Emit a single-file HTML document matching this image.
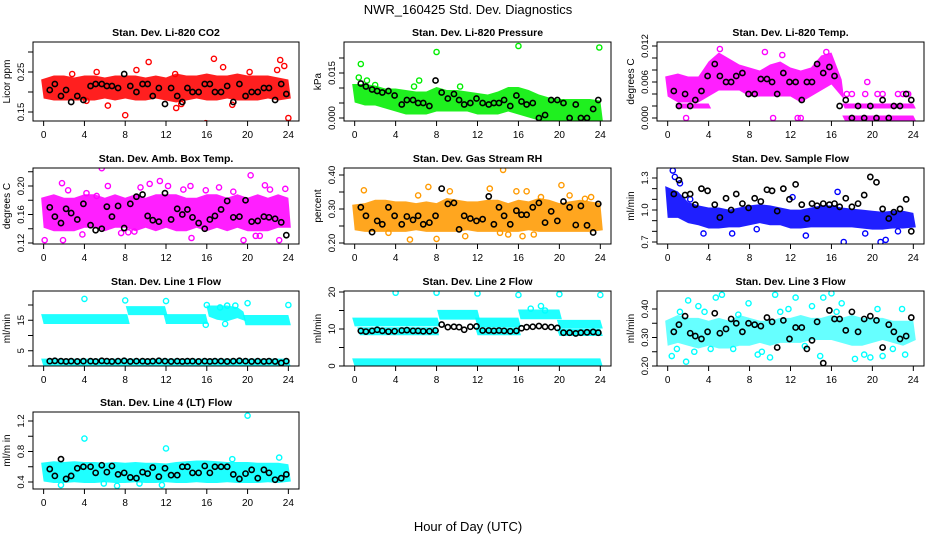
<!DOCTYPE html>
<html><head><meta charset="utf-8"><title>NWR_160425 Std. Dev. Diagnostics</title>
<style>
html,body{margin:0;padding:0;background:#fff;}
svg{display:block;font-family:"Liberation Sans",sans-serif;}
</style></head>
<body>
<svg id="chart" width="936" height="540" viewBox="0 0 936 540" xmlns="http://www.w3.org/2000/svg">
<text x="468" y="14" text-anchor="middle" font-size="13">NWR_160425  Std. Dev. Diagnostics</text>
<text x="468" y="531" text-anchor="middle" font-size="13">Hour of Day (UTC)</text>
</svg>
<script>
const HOURS=[0,1,2,3,4,5,6,7,8,9,10,11,12,13,14,15,16,17,18,19,20,21,22,23,24];
const X_TICKS=[0,4,8,12,16,20,24];
const BLACK_T=[0.6,1.1,1.7,2.2,2.7,3.3,3.9,4.6,5.1,5.7,6.2,6.7,7.3,7.9,8.5,9.1,9.7,10.2,10.7,11.3,11.9,12.5,13.1,13.6,14.1,14.6,15.2,15.8,16.3,16.8,17.4,18.0,18.6,19.2,19.8,20.4,21.0,21.6,22.1,22.7,23.3,23.8];

// Panel 1: Li-820 CO2
const P1_LO=[0.19,0.185,0.185,0.185,0.185,0.185,0.19,0.185,0.19,0.185,0.185,0.19,0.185,0.18,0.185,0.19,0.185,0.185,0.19,0.185,0.185,0.185,0.19,0.185,0.19];
const P1_HI=[0.225,0.235,0.235,0.23,0.235,0.235,0.23,0.235,0.235,0.235,0.23,0.235,0.23,0.24,0.235,0.235,0.24,0.235,0.235,0.24,0.235,0.235,0.235,0.23,0.225];
const P1_OUT_T=[8,6.3,15.9,16.7,13,23.2,23.6,24,17.6,10.3,22.9,12.9,18.5,4.2,2.8,5.2,9.1,20.2,13.5];
const P1_OUT_V=[0.142,0.166,0.122,0.283,0.16,0.28,0.265,0.135,0.262,0.275,0.255,0.245,0.168,0.178,0.245,0.25,0.255,0.25,0.17];
const P1_BLK=[0.205,0.22,0.19,0.205,0.175,0.19,0.18,0.215,0.22,0.22,0.215,0.215,0.21,0.245,0.215,0.2,0.22,0.22,0.19,0.21,0.17,0.21,0.19,0.175,0.21,0.2,0.2,0.22,0.22,0.2,0.2,0.215,0.175,0.22,0.19,0.2,0.2,0.21,0.21,0.18,0.22,0.195];

// Panel 2: Li-820 Pressure
const P2_LO=[0.006,0.005,0.005,0.004,0.003,0.002,0.002,0.002,0.003,0.003,0.003,0.003,0.002,0.002,0.002,0.003,0.002,0.001,0.0,0.0,0.0,0.0,0.0,0.0,0.0];
const P2_HI=[0.0105,0.0105,0.01,0.009,0.009,0.0085,0.008,0.008,0.0095,0.0085,0.0085,0.008,0.0075,0.007,0.008,0.0095,0.0095,0.0085,0.007,0.006,0.0055,0.0055,0.0055,0.0055,0.005];
const P2_OUT_T=[0.4,0.6,8,16,23.9,6.3,10.3,5.8,1.2,2.0];
const P2_OUT_V=[0.0135,0.018,0.022,0.024,0.0235,0.0125,0.0105,0.0105,0.0125,0.011];
const P2_BLK=[0.0115,0.0105,0.0095,0.009,0.0085,0.009,0.0075,0.0045,0.006,0.006,0.005,0.005,0.004,0.0125,0.0085,0.0065,0.008,0.006,0.0045,0.005,0.0065,0.005,0.0045,0.005,0.005,0.006,0.004,0.0075,0.0055,0.0045,0.005,0.0,0.001,0.006,0.006,0.005,0.0,0.0045,0.0,0.0,0.003,0.006];

// Panel 3: Li-820 Temp
const P3_T=[0,1,2,3,4,5,6,7,8,9,10,11,12,13,14,15,16,17];
const P3_LO=[0.004,0.003,0.003,0.003,0.004,0.005,0.005,0.005,0.004,0.004,0.004,0.004,0.004,0.003,0.004,0.005,0.006,0.0035];
const P3_HI=[0.0065,0.007,0.0065,0.0065,0.009,0.0105,0.0095,0.0085,0.008,0.0075,0.0085,0.009,0.008,0.0075,0.008,0.01,0.0105,0.006];
const P3_Q1_T=[1,4];
const P3_Q1_V=[0.002,0.002];
const P3_Q2_T=[17.3,24];
const P3_Q2_V=[0.002,0.002];
const P3_Q3_T=[17.3,24];
const P3_Q3_V=[0.0,0.0];
const P3_OUT_T=[19.3,20.5,21,22.5,23,23.5,17.5,18,1.8,10.3,12.7,13,19.5,5.1,9.5,11.2,15.5];
const P3_OUT_V=[0.004,0.004,0.004,0.004,0.004,0.004,0.004,0.004,0.0,0.0,0.0,0.0,0.006,0.0115,0.011,0.0105,0.011];
const P3_BLK=[0.0045,0.002,0.004,0.002,0.003,0.0045,0.007,0.009,0.007,0.006,0.006,0.007,0.0075,0.004,0.004,0.0065,0.0065,0.006,0.004,0.0075,0.006,0.006,0.003,0.006,0.006,0.009,0.0075,0.0085,0.007,0.002,0.003,0.0,0.002,0.0,0.002,0.0,0.003,0.0,0.002,0.002,0.004,0.003];

// Panel 4: Amb. Box Temp
const P4_LO=[0.145,0.14,0.14,0.14,0.145,0.145,0.14,0.145,0.145,0.14,0.145,0.14,0.145,0.14,0.14,0.145,0.14,0.145,0.14,0.145,0.14,0.14,0.14,0.145,0.145];
const P4_HI=[0.18,0.185,0.18,0.18,0.185,0.185,0.18,0.185,0.18,0.185,0.18,0.185,0.185,0.185,0.18,0.18,0.185,0.185,0.18,0.185,0.18,0.185,0.18,0.185,0.18];
const P4_OUT_T=[0.6,1.9,2.4,3.8,5.2,5.7,6.3,7.6,8.3,9.5,10.4,11.4,13.7,14.5,15.9,17.2,18.6,19.6,20.3,21.2,22.2,23.7,0.1,1.8,4.2,8.9,12.2,14.4,21.7,23.1,20.8];
const P4_OUT_V=[0.232,0.124,0.194,0.132,0.186,0.225,0.2,0.134,0.135,0.198,0.203,0.207,0.195,0.127,0.194,0.198,0.192,0.124,0.215,0.13,0.195,0.196,0.124,0.204,0.19,0.136,0.2,0.2,0.201,0.124,0.13];
const P4_BLK=[0.17,0.157,0.148,0.168,0.162,0.153,0.175,0.145,0.138,0.14,0.171,0.157,0.172,0.141,0.175,0.185,0.188,0.158,0.152,0.15,0.19,0.153,0.168,0.16,0.167,0.156,0.148,0.14,0.153,0.158,0.167,0.179,0.156,0.157,0.18,0.15,0.151,0.157,0.156,0.154,0.149,0.131];

// Panel 5: Gas Stream RH
const P5_LO=[0.245,0.24,0.24,0.24,0.24,0.24,0.245,0.24,0.24,0.24,0.24,0.245,0.24,0.24,0.24,0.24,0.24,0.245,0.24,0.24,0.24,0.24,0.24,0.24,0.245];
const P5_HI=[0.305,0.31,0.32,0.32,0.315,0.315,0.31,0.315,0.31,0.325,0.32,0.315,0.315,0.32,0.32,0.31,0.32,0.315,0.325,0.32,0.31,0.315,0.32,0.315,0.31];
const P5_OUT_T=[0.9,3.3,5.4,6.2,7.2,8.0,9.3,10.8,14.5,14.2,13.2,15.0,15.8,16.4,16.8,17.5,18.2,20.2,21.0,22.5,23.1];
const P5_OUT_V=[0.355,0.23,0.21,0.34,0.365,0.212,0.352,0.22,0.415,0.23,0.36,0.225,0.352,0.22,0.352,0.225,0.335,0.37,0.34,0.33,0.335];
const P5_BLK=[0.305,0.28,0.232,0.265,0.255,0.305,0.28,0.255,0.278,0.268,0.28,0.255,0.26,0.28,0.36,0.315,0.318,0.24,0.28,0.272,0.265,0.27,0.337,0.255,0.305,0.28,0.255,0.295,0.283,0.283,0.305,0.318,0.26,0.293,0.265,0.322,0.305,0.253,0.309,0.252,0.231,0.315];

// Panel 6: Sample Flow
const P6_LO=[0.95,0.95,0.9,0.88,0.85,0.85,0.86,0.86,0.88,0.9,0.88,0.88,0.85,0.85,0.86,0.86,0.86,0.86,0.86,0.85,0.84,0.84,0.85,0.85,0.86];
const P6_HI=[1.2,1.15,1.05,1.02,1.0,1.0,0.98,1.0,1.02,1.03,1.02,1.0,0.98,0.98,1.0,1.02,1.02,1.0,0.99,0.98,0.97,0.96,0.97,0.97,0.95];
const P6_OUT_T=[0.5,0.7,2.2,3.5,6.3,17.2,20.8,21.3,13.5,22.5,16.6,19.3,12.2,1.2,8.7];
const P6_OUT_V=[1.37,1.31,1.1,0.78,0.78,0.7,0.7,0.72,0.76,0.8,1.17,0.78,1.12,1.25,0.82];
const P6_BLK=[1.15,1.28,1.14,1.15,1.05,1.2,1.18,1.05,0.93,1.11,1.0,1.15,1.06,1.02,1.11,1.08,1.19,1.18,0.99,1.2,1.1,1.24,1.05,0.92,1.06,1.04,1.06,1.05,1.06,1.03,1.11,1.03,1.06,1.14,1.31,1.26,1.01,0.92,0.98,1.01,1.1,0.8];

// Panel 7: Line 1 Flow
const P7_A_T=[0,8.2];   const P7_A_LO=[14.6,14.6]; const P7_A_HI=[16.2,16.2];
const P7_B_T=[8.3,11.9]; const P7_B_LO=[17.5,17.5]; const P7_B_HI=[18.8,18.8];
const P7_C_T=[12,15.9];  const P7_C_LO=[14.6,14.6]; const P7_C_HI=[16.2,16.2];
const P7_D_T=[16.2,17,18,19,19.6]; const P7_D_LO=[17,16,15.5,16.5,15.5]; const P7_D_HI=[19,19,19,18.5,17];
const P7_E_T=[19.8,24];  const P7_E_LO=[14.2,14.2]; const P7_E_HI=[15.9,15.9];
const P7_F_T=[0,24];     const P7_F_LO=[0.5,0.5];   const P7_F_HI=[1.6,1.6];
const P7_OUT_T=[4,8,12,16,20,24,17.3,18,18.8,15.9,17.8];
const P7_OUT_V=[22,21.5,21.3,20,20.6,20,19.2,19.8,19.8,13.5,13.8];
const P7_BLK=[1.6,1.7,1.6,1.5,1.6,1.5,1.6,1.6,1.5,1.7,1.6,1.5,1.6,1.7,1.5,1.6,1.6,1.5,1.6,1.7,1.6,1.5,1.6,1.5,1.6,1.6,1.5,1.6,1.5,1.6,1.6,1.5,1.6,1.7,1.6,1.5,1.6,1.5,1.6,1.5,1.0,1.6];

// Panel 8: Line 2 Flow
const P8_A_T=[0,8.1];   const P8_A_LO=[11.4,11.4]; const P8_A_HI=[12.4,12.4];
const P8_B_T=[8.3,12];  const P8_B_LO=[13.2,13.2]; const P8_B_HI=[14.5,14.5];
const P8_C_T=[12,16];   const P8_C_LO=[11.2,11.2]; const P8_C_HI=[12.4,12.4];
const P8_D_T=[16.2,20]; const P8_D_LO=[13.3,13.3]; const P8_D_HI=[14.6,14.6];
const P8_E_T=[20,24];   const P8_E_LO=[10.8,10.8]; const P8_E_HI=[11.8,11.8];
const P8_F_T=[0.5,8];   const P8_F_LO=[9.0,9.0];   const P8_F_HI=[9.8,9.8];
const P8_G_T=[12,16];   const P8_G_LO=[9.0,9.0];   const P8_G_HI=[9.8,9.8];
const P8_H_T=[20,24];   const P8_H_LO=[8.8,8.8];   const P8_H_HI=[9.4,9.4];
const P8_I_T=[0,24];    const P8_I_LO=[0.5,0.5];   const P8_I_HI=[1.4,1.4];
const P8_OUT_T=[4,8,12,16,20,24,17.2,18.2,18.6];
const P8_OUT_V=[19.8,19.8,19.6,19.2,19.4,19.2,15.5,16.2,15];
const P8_BLK=[9.5,9.3,9.5,9.8,9.5,9.3,9.4,9.6,9.7,9.5,9.5,9.4,9.4,9.6,11.2,10.5,10.6,10.5,9.8,10.6,10.7,9.6,9.6,9.5,9.6,9.5,9.4,9.5,10.2,10.5,10.6,10.8,10.6,10.5,10.3,9.0,9.0,8.8,9.0,9.1,9.2,9.0];

// Panel 9: Line 3 Flow
const P9_LO=[0.28,0.29,0.28,0.27,0.28,0.27,0.27,0.28,0.28,0.29,0.28,0.29,0.29,0.29,0.3,0.3,0.3,0.29,0.28,0.28,0.29,0.3,0.29,0.28,0.3];
const P9_HI=[0.35,0.37,0.36,0.36,0.35,0.36,0.35,0.37,0.36,0.35,0.35,0.36,0.36,0.37,0.36,0.36,0.37,0.36,0.37,0.36,0.36,0.36,0.35,0.35,0.35];
const P9_OUT_T=[0.4,1.8,2.6,3.0,4.7,5.3,7.9,10.0,10.5,11.8,12.5,14.1,14.9,15.2,16.0,18.3,19.2,19.8,21.0,22.9,23.2,2.0,6.4,9.2,13.4,17.0,20.5,0.9,4.2,8.8,1.2,3.6,6.9,11.0,16.5,22.0];
const P9_OUT_V=[0.235,0.215,0.25,0.41,0.44,0.45,0.42,0.23,0.45,0.4,0.44,0.41,0.235,0.44,0.455,0.225,0.24,0.23,0.235,0.4,0.24,0.43,0.26,0.25,0.27,0.42,0.4,0.26,0.26,0.24,0.39,0.39,0.38,0.39,0.39,0.26];
const P9_BLK=[0.32,0.345,0.375,0.315,0.305,0.295,0.32,0.385,0.315,0.33,0.365,0.35,0.32,0.35,0.345,0.34,0.37,0.355,0.265,0.36,0.295,0.335,0.335,0.26,0.29,0.355,0.21,0.395,0.365,0.365,0.325,0.39,0.32,0.365,0.375,0.36,0.265,0.345,0.32,0.295,0.305,0.37];

// Panel 10: Line 4 (LT) Flow
const P10_LO=[0.44,0.42,0.42,0.43,0.42,0.42,0.43,0.42,0.42,0.43,0.42,0.42,0.43,0.42,0.42,0.43,0.42,0.42,0.43,0.42,0.42,0.42,0.43,0.42,0.44];
const P10_HI=[0.62,0.64,0.63,0.64,0.63,0.63,0.62,0.63,0.62,0.63,0.62,0.62,0.61,0.63,0.64,0.65,0.65,0.64,0.63,0.63,0.63,0.62,0.62,0.62,0.6];
const P10_OUT_T=[4,12,20,23.1,1.7,7.2,11.6,18.5,5.9,9.4];
const P10_OUT_V=[0.97,0.84,1.27,0.72,0.36,0.35,0.36,0.7,0.38,0.38];
const P10_BLK=[0.57,0.48,0.7,0.44,0.48,0.58,0.6,0.6,0.52,0.62,0.53,0.61,0.5,0.52,0.46,0.45,0.53,0.51,0.59,0.47,0.58,0.49,0.49,0.6,0.6,0.52,0.52,0.61,0.52,0.6,0.6,0.6,0.5,0.44,0.51,0.56,0.45,0.56,0.52,0.43,0.45,0.5];

const COLS=[[33,299],[344,611],[657,924]];
const ROWS=[[42,121],[168,244],[291,366],[412,489]];

const panels=[
 {name:'co2',title:'Stan. Dev. Li-820 CO2',ylab:'Licor ppm',c:0,r:0,color:'#ff0000',ym:[0.25,72,0.15,112],
  ticks:[0.15,0.2,0.25,0.3],labels:[[0.15,'0.15'],[0.25,'0.25']],
  bands:[[HOURS,P1_LO,P1_HI]],ot:P1_OUT_T,ov:P1_OUT_V,blk:P1_BLK},
 {name:'pressure',title:'Stan. Dev. Li-820 Pressure',ylab:'kPa',c:1,r:0,color:'#00ee00',ym:[0,118,0.015,73],
  ticks:[0,0.005,0.01,0.015,0.02],labels:[[0,'0.000'],[0.015,'0.015']],
  bands:[[HOURS,P2_LO,P2_HI]],ot:P2_OUT_T,ov:P2_OUT_V,blk:P2_BLK},
 {name:'li820-temp',title:'Stan. Dev. Li-820 Temp.',ylab:'degrees C',c:2,r:0,color:'#ff00ff',ym:[0,118,0.012,46],
  ticks:[0,0.002,0.004,0.006,0.008,0.01,0.012],labels:[[0,'0.000'],[0.006,'0.006'],[0.012,'0.012']],
  bands:[[P3_T,P3_LO,P3_HI],[P3_Q1_T,P3_Q1_V,P3_Q1_V],[P3_Q2_T,P3_Q2_V,P3_Q2_V],[P3_Q3_T,P3_Q3_V,P3_Q3_V]],ot:P3_OUT_T,ov:P3_OUT_V,blk:P3_BLK},
 {name:'amb-box-temp',title:'Stan. Dev. Amb. Box Temp.',ylab:'degrees C',c:0,r:1,color:'#ff00ff',ym:[0.2,186,0.12,243],
  ticks:[0.12,0.14,0.16,0.18,0.2,0.22],labels:[[0.12,'0.12'],[0.16,'0.16'],[0.2,'0.20']],
  bands:[[HOURS,P4_LO,P4_HI]],ot:P4_OUT_T,ov:P4_OUT_V,blk:P4_BLK},
 {name:'gas-rh',title:'Stan. Dev. Gas Stream RH',ylab:'percent',c:1,r:1,color:'#ff9a00',ym:[0.4,175,0.2,243],
  ticks:[0.2,0.25,0.3,0.35,0.4],labels:[[0.2,'0.20'],[0.3,'0.30'],[0.4,'0.40']],
  bands:[[HOURS,P5_LO,P5_HI]],ot:P5_OUT_T,ov:P5_OUT_V,blk:P5_BLK},
 {name:'sample-flow',title:'Stan. Dev. Sample Flow',ylab:'ml/min',c:2,r:1,color:'#0000ff',ym:[1.3,178,0.7,242],
  ticks:[0.7,0.8,0.9,1.0,1.1,1.2,1.3],labels:[[0.7,'0.7'],[1.0,'1.0'],[1.3,'1.3']],
  bands:[[HOURS,P6_LO,P6_HI]],ot:P6_OUT_T,ov:P6_OUT_V,blk:P6_BLK},
 {name:'line1-flow',title:'Stan. Dev. Line 1 Flow',ylab:'ml/min',c:0,r:2,color:'#00ffff',ym:[20,305,0,366],
  ticks:[0,5,10,15,20],labels:[[5,'5'],[15,'15']],
  bands:[[P7_A_T,P7_A_LO,P7_A_HI],[P7_B_T,P7_B_LO,P7_B_HI],[P7_C_T,P7_C_LO,P7_C_HI],[P7_D_T,P7_D_LO,P7_D_HI],[P7_E_T,P7_E_LO,P7_E_HI],[P7_F_T,P7_F_LO,P7_F_HI]],
  ot:P7_OUT_T,ov:P7_OUT_V,blk:P7_BLK},
 {name:'line2-flow',title:'Stan. Dev. Line 2 Flow',ylab:'ml/min',c:1,r:2,color:'#00ffff',ym:[20,292,0,366],
  ticks:[0,5,10,15,20],labels:[[0,'0'],[10,'10'],[20,'20']],
  bands:[[P8_A_T,P8_A_LO,P8_A_HI],[P8_B_T,P8_B_LO,P8_B_HI],[P8_C_T,P8_C_LO,P8_C_HI],[P8_D_T,P8_D_LO,P8_D_HI],[P8_E_T,P8_E_LO,P8_E_HI],[P8_F_T,P8_F_LO,P8_F_HI],[P8_G_T,P8_G_LO,P8_G_HI],[P8_H_T,P8_H_LO,P8_H_HI],[P8_I_T,P8_I_LO,P8_I_HI]],
  ot:P8_OUT_T,ov:P8_OUT_V,blk:P8_BLK},
 {name:'line3-flow',title:'Stan. Dev. Line 3 Flow',ylab:'ml/min',c:2,r:2,color:'#00ffff',ym:[0.4,309,0.2,366],op:0.6,
  ticks:[0.2,0.25,0.3,0.35,0.4],labels:[[0.2,'0.20'],[0.3,'0.30'],[0.4,'0.40']],
  bands:[[HOURS,P9_LO,P9_HI]],ot:P9_OUT_T,ov:P9_OUT_V,blk:P9_BLK},
 {name:'line4-flow',title:'Stan. Dev. Line 4 (LT) Flow',ylab:'ml/m in',c:0,r:3,color:'#00ffff',ym:[1.2,421,0.4,482],
  ticks:[0.4,0.6,0.8,1.0,1.2],labels:[[0.4,'0.4'],[0.8,'0.8'],[1.2,'1.2']],
  bands:[[HOURS,P10_LO,P10_HI]],ot:P10_OUT_T,ov:P10_OUT_V,blk:P10_BLK}
];

const NS='http://www.w3.org/2000/svg';
const svg=document.getElementById('chart');
function mk(tag,attrs,parent){const e=document.createElementNS(NS,tag);for(const k in attrs)e.setAttribute(k,attrs[k]);(parent||svg).appendChild(e);return e;}

panels.forEach(p=>{
  const [L,R]=COLS[p.c],[T,B]=ROWS[p.r];
  const xs=t=>L+(R-L)*(0.04+0.92*t/24);
  const ys=v=>p.ym[1]+(v-p.ym[0])*(p.ym[3]-p.ym[1])/(p.ym[2]-p.ym[0]);
  const g=mk('g',{});
  
  
  const cp=mk('clipPath',{id:'clip-'+p.name},g);
  mk('rect',{x:L,y:T,width:R-L,height:B-T},cp);
  const title=mk('text',{x:(L+R)/2,y:T-6,'text-anchor':'middle','font-size':'10.5','font-weight':'bold'},g);
  title.textContent=p.title;
  
  
  const yl=mk('text',{x:0,y:0,'text-anchor':'middle','font-size':'10',transform:`translate(${L-23},${(T+B)/2}) rotate(-90)`},g);
  yl.textContent=p.ylab;
  
  
  const data=mk('g',{'clip-path':`url(#clip-${p.name})`},g);
  p.bands.forEach(b=>{
    const [bt,lo,hi]=b;
    let pts=[];
    for(let i=0;i<bt.length;i++)pts.push([xs(bt[i])-(i==0?2.5:0),ys(hi[i])-2.5]);
    for(let i=bt.length-1;i>=0;i--)pts.push([xs(bt[i])+(i==bt.length-1?2.5:0),ys(lo[i])+2.5]);
    const poly=mk('polygon',{points:pts.map(q=>q.join(',')).join(' '),fill:p.color,'fill-opacity':p.op||0.88},data);
    
    
  });
  p.ot.forEach((t,i)=>{
    const c=mk('circle',{cx:xs(t),cy:ys(p.ov[i]),r:2.6,fill:'none',stroke:p.color,'stroke-width':1.4},data);
    
    
  });
  p.blk.forEach((v,i)=>{
    const c=mk('circle',{cx:xs(BLACK_T[i]),cy:ys(v),r:2.6,fill:'none',stroke:'#000','stroke-width':1.6},data);
    
    
  });
  const box=mk('rect',{x:L,y:T,width:R-L,height:B-T,fill:'none',stroke:'#000','stroke-width':1},g);
  
  
  X_TICKS.forEach(t=>{
    mk('line',{x1:xs(t),x2:xs(t),y1:B,y2:B+5,stroke:'#000'},g);
    const tl=mk('text',{x:xs(t),y:B+17,'text-anchor':'middle','font-size':'10'},g);
    tl.textContent=t;
    
    
  });
  p.ticks.forEach(v=>{const y=ys(v);if(y>=T-1&&y<=B+1)mk('line',{x1:L-5,x2:L,y1:y,y2:y,stroke:'#000'},g);});
  p.labels.forEach(lv=>{
    const y=ys(lv[0]);
    const tl=mk('text',{x:0,y:0,'text-anchor':'middle','font-size':'9.5',transform:`translate(${L-9},${y}) rotate(-90)`},g);
    tl.textContent=lv[1];
    
    
  });
});
</script>
</body></html>
